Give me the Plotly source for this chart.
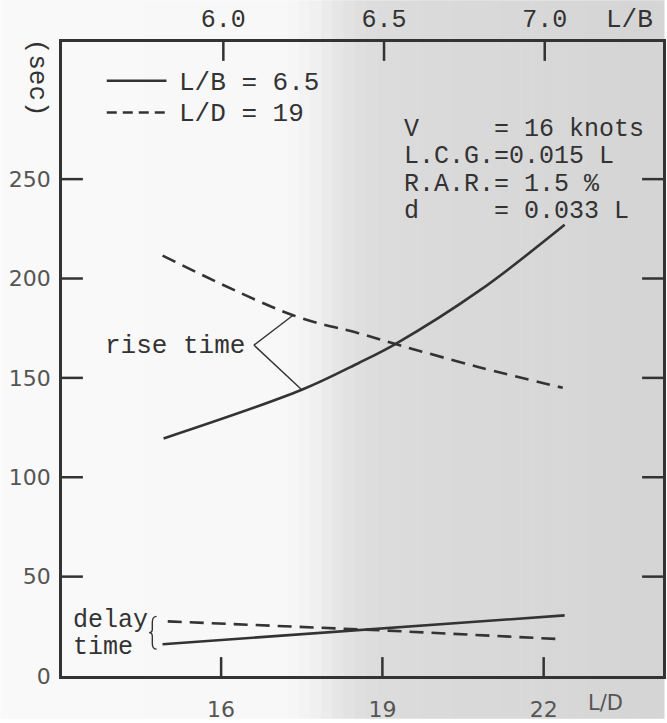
import plotly.graph_objects as go
import numpy as np

# ---------------- data ----------------
ld_rise = [14.93, 17.50, 18.56, 19.24, 20.81, 22.39]        # L/D (bottom axis), L/B = 6.5
rise_solid = [119.5, 144.0, 157.5, 167.0, 194.0, 227.0]
lb_rise = [5.811, 6.217, 6.421, 6.536, 6.793, 7.056]        # L/B (top axis), L/D = 19
rise_dashed = [211.5, 181.5, 172.5, 167.0, 155.5, 145.0]
ld_delay = [14.91, 18.98, 22.39]
delay_solid = [16.0, 24.0, 30.5]
lb_delay = [5.827, 6.492, 7.056]
delay_dashed = [27.5, 23.0, 18.5]

ld_ticks = [16, 19, 22]
lb_ticks = [6.0, 6.5, 7.0]
lb_ticklabels = ["6.0", "6.5", "7.0"]
y_ticks = [0, 50, 100, 150, 200, 250]

W, H = 667, 723
ML, MR, MT, MB = 62, 1, 42, 43
PW, PH = W - ML - MR, H - MT - MB
XR = [13.04, 24.22]
X2R = [5.498, 7.368]
YR = [0, 319]

INK = "#333333"
MONO = "Liberation Mono, Courier New, monospace"
SANS = "DejaVu Sans, sans-serif"


def px(x):
    return (x - ML) / PW


def py(y):
    return (H - MB - y) / PH


def lb_to_ld(v):
    return XR[0] + (v - X2R[0]) / (X2R[1] - X2R[0]) * (XR[1] - XR[0])


fig = go.Figure()

line_w = 2.6
fig.add_trace(go.Scatter(x=ld_rise, y=rise_solid, mode="lines", line=dict(color=INK, width=line_w, shape="spline"), xaxis="x", yaxis="y", showlegend=False))
fig.add_trace(go.Scatter(x=lb_rise, y=rise_dashed, mode="lines", line=dict(color=INK, width=line_w, dash="14px,8px", shape="spline"), xaxis="x2", yaxis="y", showlegend=False))
fig.add_trace(go.Scatter(x=ld_delay, y=delay_solid, mode="lines", line=dict(color=INK, width=line_w), xaxis="x", yaxis="y", showlegend=False))
fig.add_trace(go.Scatter(x=lb_delay, y=delay_dashed, mode="lines", line=dict(color=INK, width=line_w, dash="14px,8px"), xaxis="x2", yaxis="y", showlegend=False))

# inward tick marks drawn as a line trace built from the tick arrays
ylen = 19 * (YR[1] - YR[0]) / PH
xlen = 21 * (XR[1] - XR[0]) / PW
tx, ty = [], []
for v in ld_ticks:
    tx += [v, v, None]
    ty += [YR[0], YR[0] + ylen, None]
for v in y_ticks[1:]:
    tx += [XR[0], XR[0] + xlen, None, XR[1], XR[1] - xlen, None]
    ty += [v, v, None, v, v, None]
fig.add_trace(go.Scatter(x=tx, y=ty, mode="lines", line=dict(color=INK, width=2.5), xaxis="x", yaxis="y",
                         showlegend=False, hoverinfo="skip", cliponaxis=False, connectgaps=False))
t2x, t2y = [], []
for v in lb_ticks:
    t2x += [v, v, None]
    t2y += [YR[1], YR[1] - ylen, None]
fig.add_trace(go.Scatter(x=t2x, y=t2y, mode="lines", line=dict(color=INK, width=2.5), xaxis="x2", yaxis="y",
                         showlegend=False, hoverinfo="skip", cliponaxis=False, connectgaps=False))

shapes = []
# scanned-paper background gradient
stops_x = [0, 290, 318, 340, 365, 420, 667]
stops_g = [250, 248, 240, 230, 222, 219, 213]
edges = np.linspace(0, W, 61)
for a, b in zip(edges[:-1], edges[1:]):
    g = int(np.interp((a + b) / 2, stops_x, stops_g))
    shapes.append(dict(type="rect", xref="paper", yref="paper", x0=px(a), x1=px(b + 0.5), y0=py(H), y1=py(0),
                       fillcolor=f"rgb({g},{g},{g})", line=dict(width=0), layer="below"))

# rise time leader lines
vx, vy = 16.61, 166.5
shapes.append(dict(type="line", xref="x", yref="y", x0=vx, y0=vy, x1=ld_rise[1], y1=rise_solid[1], line=dict(color=INK, width=1.4)))
shapes.append(dict(type="line", xref="x", yref="y", x0=vx, y0=vy, x1=lb_to_ld(lb_rise[1]), y1=rise_dashed[1], line=dict(color=INK, width=1.4)))

# delay time brace
shapes.append(dict(type="path", xref="x", yref="y",
                   path="M 14.80,30 Q 14.72,30 14.72,27 L 14.72,23.5 Q 14.72,21.8 14.66,21.8 Q 14.72,21.8 14.72,20 L 14.72,16.5 Q 14.72,13.5 14.80,13.5",
                   line=dict(color=INK, width=1.4)))

# legend samples
shapes.append(dict(type="line", xref="paper", yref="paper", x0=px(107), x1=px(167), y0=py(81), y1=py(81), line=dict(color=INK, width=line_w)))
shapes.append(dict(type="line", xref="paper", yref="paper", x0=px(107), x1=px(167), y0=py(113), y1=py(113), line=dict(color=INK, width=line_w, dash="10px,6px")))

ann = []


def text(t, x, y, size=26, font=MONO, xanchor="left", angle=0, color=INK):
    ann.append(dict(text=t, x=px(x), y=py(y), xref="paper", yref="paper", showarrow=False, xanchor=xanchor,
                    yanchor="middle", textangle=angle, font=dict(family=font, size=size, color=color)))


nb = "\u00a0"
text("L/B = 6.5".replace(" ", nb), 178, 83)
text("L/D = 19".replace(" ", nb), 178, 114)
text(("V" + " " * 5 + "= 16 knots").replace(" ", nb), 404, 130, size=25)
text("L.C.G.=0.015 L".replace(" ", nb), 404, 157.5, size=25)
text("R.A.R.= 1.5 %".replace(" ", nb), 404, 185, size=25)
text(("d" + " " * 5 + "= 0.033 L").replace(" ", nb), 404, 212.5, size=25)
text("rise time".replace(" ", nb), 103, 348)
text("delay", 71, 624, size=25)
text("time", 71, 651, size=25)
text("(sec)", 37, 78, angle=90, xanchor="center")
text("L/B", 632, 20, xanchor="center")
text("L/D", 608, 707, size=21, font=SANS, xanchor="center", color="#555555")

fig.update_layout(
    width=W, height=H, autosize=False,
    margin=dict(l=ML, r=MR, t=MT, b=MB, pad=0),
    paper_bgcolor="white", plot_bgcolor="rgba(0,0,0,0)",
    shapes=shapes, annotations=ann, showlegend=False,
    xaxis=dict(range=XR, tickvals=ld_ticks, ticktext=[str(v) for v in ld_ticks], ticks="",
               showline=True, linewidth=2.6, linecolor=INK, showgrid=False, zeroline=False,
               tickfont=dict(family=SANS, size=22, color="#555555"), ticklabelstandoff=12),
    xaxis2=dict(range=X2R, overlaying="x", side="top", tickvals=lb_ticks, ticktext=lb_ticklabels, ticks="",
                showline=True, linewidth=2.6, linecolor=INK, showgrid=False, zeroline=False,
                tickfont=dict(family=MONO, size=25, color=INK), ticklabelstandoff=2),
    yaxis=dict(range=YR, tickvals=y_ticks, ticks="", showline=True,
               linewidth=2.6, linecolor=INK, mirror=True, showgrid=False, zeroline=False,
               tickfont=dict(family=SANS, size=22, color="#555555"), ticklabelstandoff=4),
)

fig.write_html("out.html")
